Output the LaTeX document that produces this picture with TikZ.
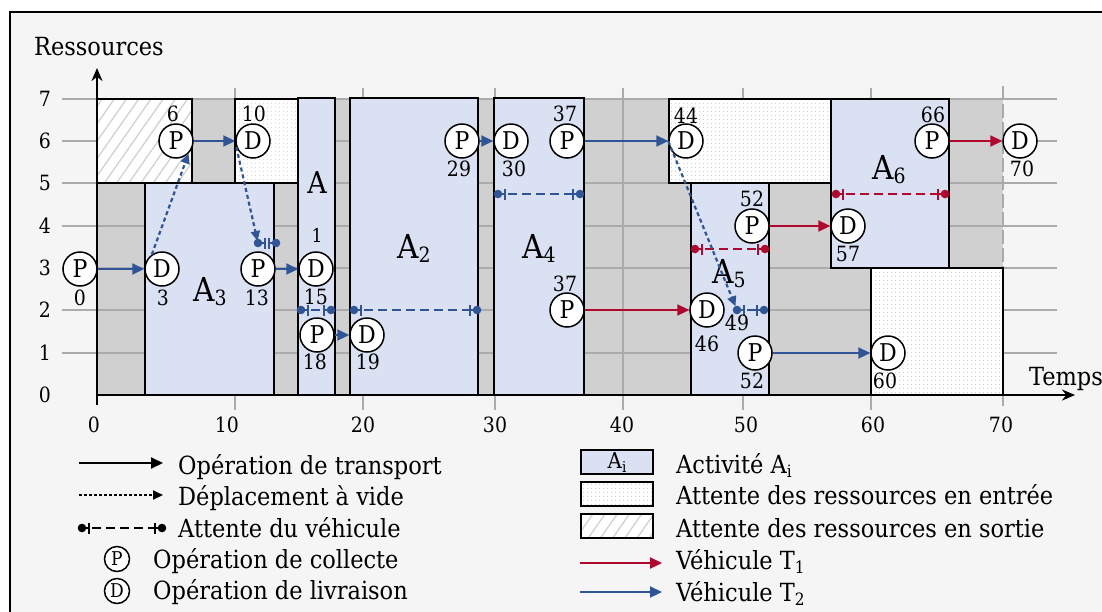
\documentclass[tikz,border=0pt]{standalone}
\usepackage{fontspec}
\setmainfont{DejaVu Serif Condensed}
\usetikzlibrary{arrows.meta,patterns.meta,calc}
\definecolor{bgc}{HTML}{F5F5F5}
\definecolor{grayfill}{HTML}{D0D0D0}
\definecolor{gridc}{HTML}{ABABAB}
\definecolor{actc}{HTML}{D9E1F2}
\definecolor{bluec}{HTML}{2F5597}
\definecolor{redc}{HTML}{B0072E}
\newcommand\myfs[1]{\fontsize{#1}{#1}\selectfont}
\newcommand\Asub[1]{A\raisebox{-4.5pt}{\myfs{21}#1}}
\newcommand\waitseg[3]{%
  \fill[#1] (#2) circle[radius=4.3pt] (#3) circle[radius=4.3pt];
  \draw[#1,line width=2pt] (#2) -- ($(#2)+(7,0)$) ($(#2)+(7,-5.5)$) -- ($(#2)+(7,5.5)$);
  \draw[#1,line width=2pt] (#3) -- ($(#3)+(-7,0)$) ($(#3)+(-7,-5.5)$) -- ($(#3)+(-7,5.5)$);
  \draw[#1,line width=2pt,dash pattern=on 9pt off 5pt,dash phase=11pt] ($(#2)+(7,0)$) -- ($(#3)+(-7,0)$);
}
\begin{document}
\begin{tikzpicture}[x=1pt,y=-1pt,
  opnode/.style={circle,draw,fill=white,line width=1.5pt,minimum size=34pt,inner sep=0pt,font=\myfs{24.5}},
  tlab/.style={inner sep=0pt,font=\myfs{21}},
  legtext/.style={anchor=base west,inner sep=0pt,font=\myfs{25}},
  actbox/.style={draw,line width=1.8pt,fill=actc},
  inbox/.style={draw,line width=1.8pt,preaction={fill=white},pattern={Dots[distance=4pt,radius=0.6pt]},pattern color=black!25},
  outbox/.style={draw,line width=1.8pt,preaction={fill=white},pattern={Lines[angle=55,distance=10pt,line width=1.3pt]},pattern color=black!18},
  gridline/.style={gridc,line width=1.5pt},
  tarrow/.style={line width=2.2pt,-{Triangle[length=12pt,width=11pt]}},
  vide/.style={line width=2.2pt,dash pattern=on 4pt off 3pt,-{Triangle[length=10pt,width=9pt]}},
  axisline/.style={line width=2.2pt,-{Stealth[length=13pt,width=11pt]}}
]
\useasboundingbox (0,0) rectangle (1102,611);
\draw[line width=1.8pt,fill=bgc] (10,12) rectangle (1125,640);
% gray area
\fill[grayfill] (97,99) rectangle (1003,395);
% grid
\foreach \yy in {99,141,183,226,268,310,353}{\draw[gridline] (62,\yy) -- (1057,\yy);}
\foreach \xx in {235,363,495,623,743,871}{\draw[gridline] (\xx,88) -- (\xx,410);}
\draw[gridline,line width=2.5pt,dash pattern=on 14pt off 4pt] (1003,86) -- (1003,410);
% boxes
\path[outbox] (97,99) rectangle (192,183);
\path[inbox] (235,99) rectangle (298,183);
\path[actbox] (145,183) rectangle (274,395);
\path[actbox] (298,98) rectangle (335,395);
\path[actbox] (350,98) rectangle (478,395);
\path[actbox] (494,98) rectangle (584,395);
\path[inbox] (669,99) rectangle (831,183);
\path[actbox] (691,183) rectangle (769,395);
\path[actbox] (831,99) rectangle (949,268);
\path[inbox] (871,268) rectangle (1003,395);
% axes
\coordinate (yax0) at (97,405); \coordinate (yax1) at (97,68);
\coordinate (xax0) at (97,395); \coordinate (xax1) at (1075,395);
\draw[axisline] (yax0) -- (yax1);
\draw[axisline] (xax0) -- (xax1);
\node[anchor=base west,inner sep=0pt,font=\myfs{25}] (ylab) at (34,55) {Ressources};
\node[anchor=base west,inner sep=0pt,font=\myfs{25}] (xlab) at (1029,385) {Temps};
\foreach \k/\yy in {0/395,1/353,2/310,3/268,4/226,5/183,6/141,7/99}{\node[tlab] at (45,\yy) {\k};}
\foreach \k/\xx in {0/94,10/227,20/363,30/495,40/622,50/746,60/873,70/1001}{\node[tlab] at (\xx,425) {\k};}
% activity labels
\node[anchor=base west,inner sep=0pt,font=\myfs{33}] (a3) at (193,301) {\Asub{3}};
\node[anchor=base west,inner sep=0pt,font=\myfs{33}] (a2) at (397,258) {\Asub{2}};
\node[anchor=base west,inner sep=0pt,font=\myfs{33}] (a4) at (522,258) {\Asub{4}};
\node[anchor=base west,inner sep=0pt,font=\myfs{33}] (a5) at (712,283) {\Asub{5}};
\node[anchor=base west,inner sep=0pt,font=\myfs{33}] (a6) at (872,179) {\Asub{6}};
\node[anchor=base,inner sep=0pt,font=\myfs{30}] (a1) at (317,193) {A};
\node[inner sep=0pt,font=\myfs{19}] (a1s) at (317,235) {1};
% waiting coordinates
\coordinate (wAs) at (258,243); \coordinate (wAe) at (276,243);
\coordinate (wBs) at (301,310); \coordinate (wBe) at (331,310);
\coordinate (wCs) at (354,310); \coordinate (wCe) at (477,310);
\coordinate (wDs) at (498,194); \coordinate (wDe) at (580,194);
\coordinate (wEs) at (737,310); \coordinate (wEe) at (764,310);
\coordinate (wFs) at (695,249); \coordinate (wFe) at (765,249);
\coordinate (wGs) at (836,194); \coordinate (wGe) at (945,194);
\waitseg{bluec}{wAs}{wAe}
\waitseg{bluec}{wBs}{wBe}
\waitseg{bluec}{wCs}{wCe}
\waitseg{bluec}{wDs}{wDe}
\waitseg{bluec}{wEs}{wEe}
\waitseg{redc}{wFs}{wFe}
\waitseg{redc}{wGs}{wGe}
% operation nodes
\node[opnode] (p0) at (80,269) {P};
\node[opnode] (d3) at (162,269) {D};
\node[opnode] (p6) at (176,141) {P};
\node[opnode] (d10) at (253,141) {D};
\node[opnode] (p13) at (258,269) {P};
\node[opnode] (d15) at (316,269) {D};
\node[opnode] (p18) at (317,335) {P};
\node[opnode] (d19) at (367,335) {D};
\node[opnode] (p29) at (462,141) {P};
\node[opnode] (d30) at (511,141) {D};
\node[opnode] (p37a) at (567,141) {P};
\node[opnode] (d44) at (686,141) {D};
\node[opnode] (p37b) at (567,310) {P};
\node[opnode] (d46) at (707,310) {D};
\node[opnode] (p52a) at (752,226) {P};
\node[opnode] (d57) at (848,226) {D};
\node[opnode] (p52b) at (755,353) {P};
\node[opnode] (d60) at (888,353) {D};
\node[opnode] (p66) at (932,141) {P};
\node[opnode] (d70) at (1020,141) {D};
% time labels
\node[tlab] at (80,298) {0};
\node[tlab] at (163,298) {3};
\node[tlab] at (173,114) {6};
\node[tlab] at (254,114) {10};
\node[tlab] at (257,298) {13};
\node[tlab] at (316,297) {15};
\node[tlab] at (315,362) {18};
\node[tlab] at (368,362) {19};
\node[tlab] at (459,169) {29};
\node[tlab] at (514,169) {30};
\node[tlab] at (565,114) {37};
\node[tlab] at (686,116) {44};
\node[tlab] at (565,284) {37};
\node[tlab] at (707,344) {46};
\node[tlab] at (737,323) {49};
\node[tlab] at (752,199) {52};
\node[tlab] at (848,254) {57};
\node[tlab] at (752,381) {52};
\node[tlab] at (885,381) {60};
\node[tlab] at (933,115) {66};
\node[tlab] at (1022,169) {70};
% transport arrows
\draw[tarrow,bluec] (p0) -- (d3);
\draw[tarrow,bluec] (p6) -- (d10);
\draw[tarrow,bluec] (p13) -- (d15);
\draw[tarrow,bluec] (p18) -- (d19);
\draw[tarrow,bluec] (p29) -- (d30);
\draw[tarrow,bluec] (p37a) -- (d44);
\draw[tarrow,bluec] (p52b) -- (d60);
\draw[tarrow,redc] (p37b) -- (d46);
\draw[tarrow,redc] (p52a) -- (d57);
\draw[tarrow,redc] (p66) -- (d70);
% empty travel
\draw[vide,bluec] (d3.125) -- (p6.315);
\draw[vide,bluec,shorten >=2pt] (d10.200) -- (wAs);
\draw[vide,bluec,shorten >=4pt] (d44.west) -- (wEs);
% legend left
\coordinate (la1) at (79,463); \coordinate (lb1) at (163,463);
\draw[tarrow,black,line width=2pt] (la1) -- (lb1);
\node[legtext] at (178,474) {Opération de transport};
\coordinate (la2) at (79,495); \coordinate (lb2) at (163,495);
\draw[vide,black,line width=1.8pt,dash pattern=on 3pt off 2pt] (la2) -- (lb2);
\node[legtext] at (178,505) {Déplacement à vide};
\coordinate (lw1) at (82,528); \coordinate (lw2) at (162,528);
\waitseg{black}{lw1}{lw2}
\node[legtext] at (178,537) {Attente du véhicule};
\node[opnode,minimum size=25pt,font=\myfs{19}] (lp) at (117,559) {P};
\node[legtext] at (153,568) {Opération de collecte};
\node[opnode,minimum size=25pt,font=\myfs{19}] (ld) at (117,591) {D};
\node[legtext] at (153,599) {Opération de livraison};
% legend right
\node[actbox,line width=1.5pt,minimum width=72pt,minimum height=24pt,inner sep=0pt] (lai) at (617,462) {\myfs{22}A\raisebox{-4pt}{\myfs{15}i}};
\node[legtext] at (676,473) {Activité A\raisebox{-4pt}{\myfs{17}i}};
\path[inbox,line width=1.5pt] (581,482) rectangle (653,506);
\node[legtext] at (676,504) {Attente des ressources en entrée};
\path[outbox,line width=1.5pt] (581,514) rectangle (653,538);
\node[legtext] at (676,537) {Attente des ressources en sortie};
\coordinate (lr1) at (580,563); \coordinate (lr2) at (662,563);
\draw[tarrow,redc] (lr1) -- (lr2);
\node[legtext] at (676,569) {Véhicule T\raisebox{-4pt}{\myfs{17}1}};
\coordinate (lt1) at (580,592); \coordinate (lt2) at (662,592);
\draw[tarrow,bluec] (lt1) -- (lt2);
\node[legtext] at (676,601) {Véhicule T\raisebox{-4pt}{\myfs{17}2}};
\end{tikzpicture}
\end{document}
